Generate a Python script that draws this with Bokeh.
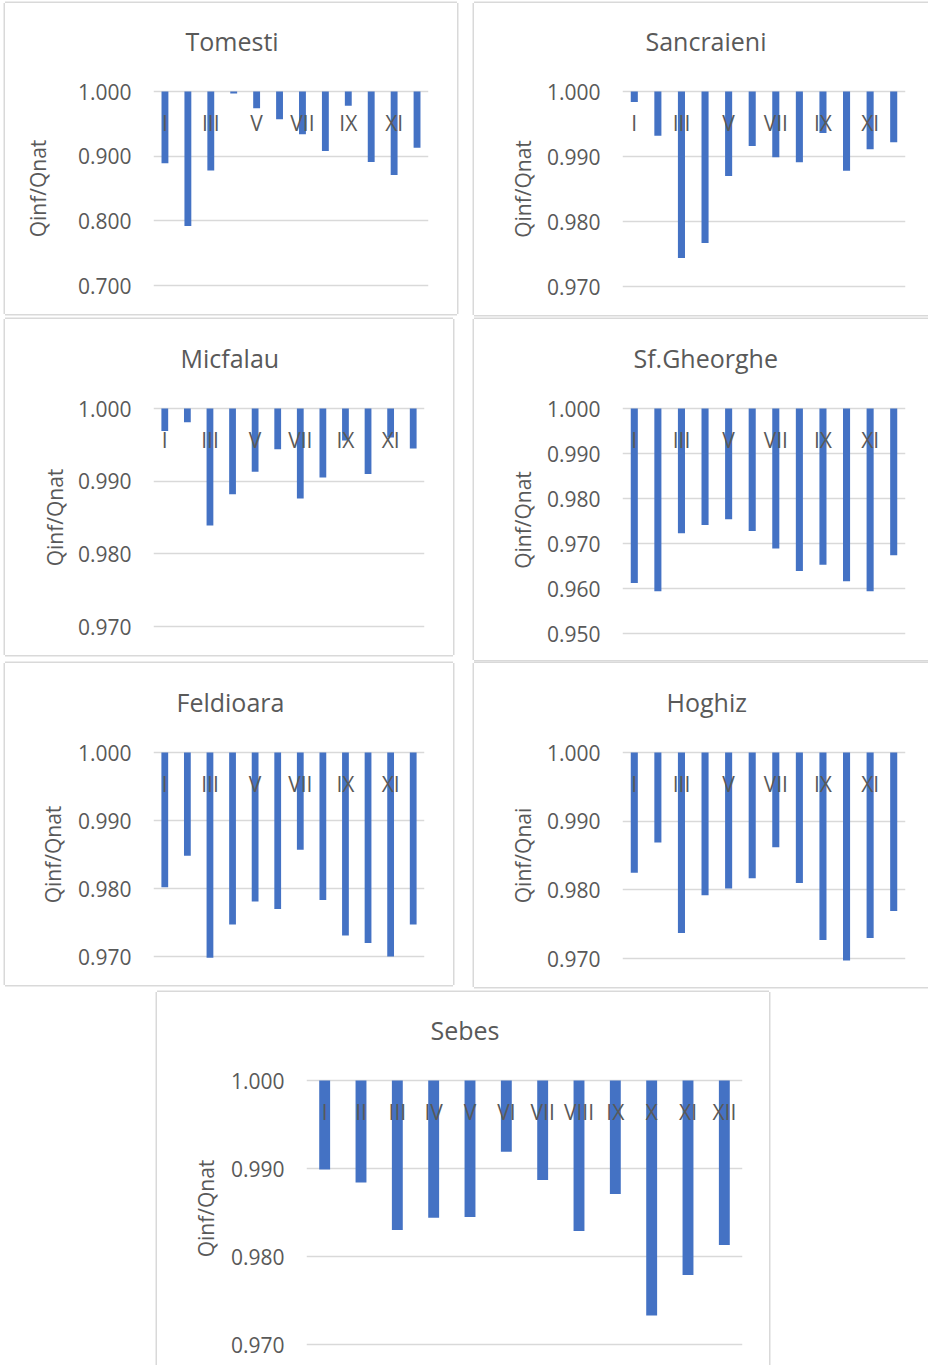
from bokeh.plotting import figure
from bokeh.models import Range1d, FixedTicker, NumeralTickFormatter, Spacer
from bokeh.layouts import row, column
from bokeh.embed import file_html
from bokeh.resources import INLINE

# ---------------- data ----------------
MONTHS = ["I", "II", "III", "IV", "V", "VI", "VII", "VIII", "IX", "X", "XI", "XII"]
BASE = 1.0

tomesti = [0.889, 0.792, 0.878, 0.997, 0.974, 0.957, 0.934, 0.908, 0.978, 0.891, 0.871, 0.913]
sancraieni = [0.9984, 0.9932, 0.9744, 0.9767, 0.9870, 0.9916, 0.9899, 0.9891, 0.9936, 0.9878, 0.9911, 0.9922]
micfalau = [0.9969, 0.9981, 0.9839, 0.9882, 0.9913, 0.9944, 0.9876, 0.9905, 0.9956, 0.9910, 0.9960, 0.9945]
sfgheorghe = [0.9612, 0.9594, 0.9723, 0.9741, 0.9754, 0.9728, 0.9689, 0.9639, 0.9653, 0.9616, 0.9594, 0.9674]
feldioara = [0.9802, 0.9848, 0.9698, 0.9747, 0.9781, 0.9770, 0.9857, 0.9783, 0.9731, 0.9720, 0.9700, 0.9747]
hoghiz = [0.9825, 0.9869, 0.9737, 0.9792, 0.9802, 0.9817, 0.9862, 0.9810, 0.9727, 0.9697, 0.9730, 0.9769]
sebes = [0.9899, 0.9884, 0.9830, 0.9844, 0.9845, 0.9919, 0.9887, 0.9829, 0.9871, 0.9733, 0.9779, 0.9813]

ticks_tomesti = [0.7, 0.8, 0.9, 1.0]
ticks_950 = [0.95, 0.96, 0.97, 0.98, 0.99, 1.0]
ticks_970 = [0.97, 0.98, 0.99, 1.0]

# ---------------- style ----------------
BAR_COLOR = "#4472C4"
TEXT_COLOR = "#595959"
GRID_COLOR = "#D9D9D9"
FONT = "Open Sans"
BORDER = "#D9D9D9"
XPOS = [i + 1 for i in range(len(MONTHS))]
TOP_EXT = 29   # px of empty frame above the 1.000 line (title sits above it)


def shadow(sides):
    parts = []
    t = "1.5px"
    if "l" in sides:
        parts.append(f"-{t} 0 0 0 {BORDER}")
    if "r" in sides:
        parts.append(f"{t} 0 0 0 {BORDER}")
    if "t" in sides:
        parts.append(f"0 -{t} 0 0 {BORDER}")
    if "b" in sides:
        parts.append(f"0 {t} 0 0 {BORDER}")
    return ", ".join(parts)


def make_panel(title, values, ticks, ylabel, W, H, fl, fr, gt, gb,
               title_off, lab_standoff, all_labels, sides):
    lo, hi = ticks[0], ticks[-1]
    per_px = (hi - lo) / (gb - gt)
    mb_bottom = max(0, H - gb - TOP_EXT)
    bot_ext = H - gb - mb_bottom
    p = figure(width=W, height=H,
               x_range=Range1d(0.5, len(MONTHS) + 0.5),
               y_range=Range1d(lo - bot_ext * per_px, hi + TOP_EXT * per_px),
               output_backend="svg", toolbar_location=None,
               min_border_left=fl, min_border_right=fr,
               min_border_top=gt - TOP_EXT, min_border_bottom=mb_bottom,
               title=title)
    p.title.text_font = FONT
    p.title.text_font_size = "25px"
    p.title.text_font_style = "normal"
    p.title.text_color = TEXT_COLOR
    p.title.align = "left"
    p.title.offset = title_off
    p.title.standoff = 10

    p.vbar(x=XPOS, top=BASE, bottom=values, width=0.3,
           fill_color=BAR_COLOR, line_color=None)

    p.outline_line_color = None
    p.background_fill_color = "white"
    p.border_fill_color = "white"

    # category axis crossing at 1.000
    xa = p.xaxis[0]
    xa.fixed_location = BASE
    xa.ticker = FixedTicker(ticks=XPOS if all_labels else XPOS[::2])
    xa.major_label_overrides = {x: m for x, m in zip(XPOS, MONTHS)}
    xa.axis_line_color = None
    xa.major_tick_line_color = None
    xa.major_tick_out = 0
    xa.major_tick_in = 0
    xa.minor_tick_line_color = None
    xa.major_label_standoff = 17
    xa.major_label_text_font = FONT
    xa.major_label_text_font_size = "21px"
    xa.major_label_text_color = TEXT_COLOR

    ya = p.yaxis[0]
    ya.ticker = FixedTicker(ticks=ticks)
    ya.formatter = NumeralTickFormatter(format="0.000")
    ya.axis_line_color = None
    ya.major_tick_line_color = None
    ya.major_tick_out = 0
    ya.major_tick_in = 0
    ya.minor_tick_line_color = None
    ya.major_label_standoff = 22
    ya.major_label_text_font = FONT
    ya.major_label_text_font_size = "21px"
    ya.major_label_text_color = TEXT_COLOR
    ya.axis_label = ylabel
    ya.axis_label_text_font = FONT
    ya.axis_label_text_font_size = "21px"
    ya.axis_label_text_font_style = "normal"
    ya.axis_label_text_color = TEXT_COLOR
    ya.axis_label_standoff = lab_standoff

    p.xgrid.visible = False
    p.ygrid.grid_line_color = GRID_COLOR
    p.ygrid.grid_line_width = 1.5

    p.styles = {"box-shadow": shadow(sides)}
    return p


p1 = make_panel("Tomesti", tomesti, ticks_tomesti, "Qinf/Qnat",
                452, 311, 148, 29, 88, 282, 32, 23, False, "lrtb")
p2 = make_panel("Sancraieni", sancraieni, ticks_970, "Qinf/Qnat",
                454, 312, 148, 23, 88, 283, 23, 7, False, "ltb")
p3 = make_panel("Micfalau", micfalau, ticks_970, "Qinf/Qnat",
                448, 336, 148, 29, 89, 307, 27, 6, False, "lrtb")
p4 = make_panel("Sf.Gheorghe", sfgheorghe, ticks_950, "Qinf/Qnat",
                454, 341, 148, 23, 89, 314, 11, 7, False, "ltb")
p5 = make_panel("Feldioara", feldioara, ticks_970, "Qinf/Qnat",
                448, 322, 148, 29, 89, 293, 23, 8, False, "lrtb")
p6 = make_panel("Hoghiz", hoghiz, ticks_970, "Qinf/Qnai",
                454, 324, 148, 23, 89, 295, 44, 7, False, "ltb")
p7 = make_panel("Sebes", sebes, ticks_970, "Qinf/Qnat",
                612, 373, 149, 27, 88, 352, 124, 8, True, "lrt")

layout = column(
    Spacer(width=10, height=3),
    row(Spacer(width=5, height=10), p1, Spacer(width=17, height=10), p2),
    Spacer(width=10, height=4),
    row(Spacer(width=5, height=10), p3, Spacer(width=21, height=10), p4),
    Spacer(width=10, height=3),
    row(Spacer(width=5, height=10), p5, Spacer(width=21, height=10), p6),
    Spacer(width=10, height=5),
    row(Spacer(width=157, height=10), p7),
)

open("out.html", "w").write(file_html(layout, INLINE, title="Qinf/Qnat"))
